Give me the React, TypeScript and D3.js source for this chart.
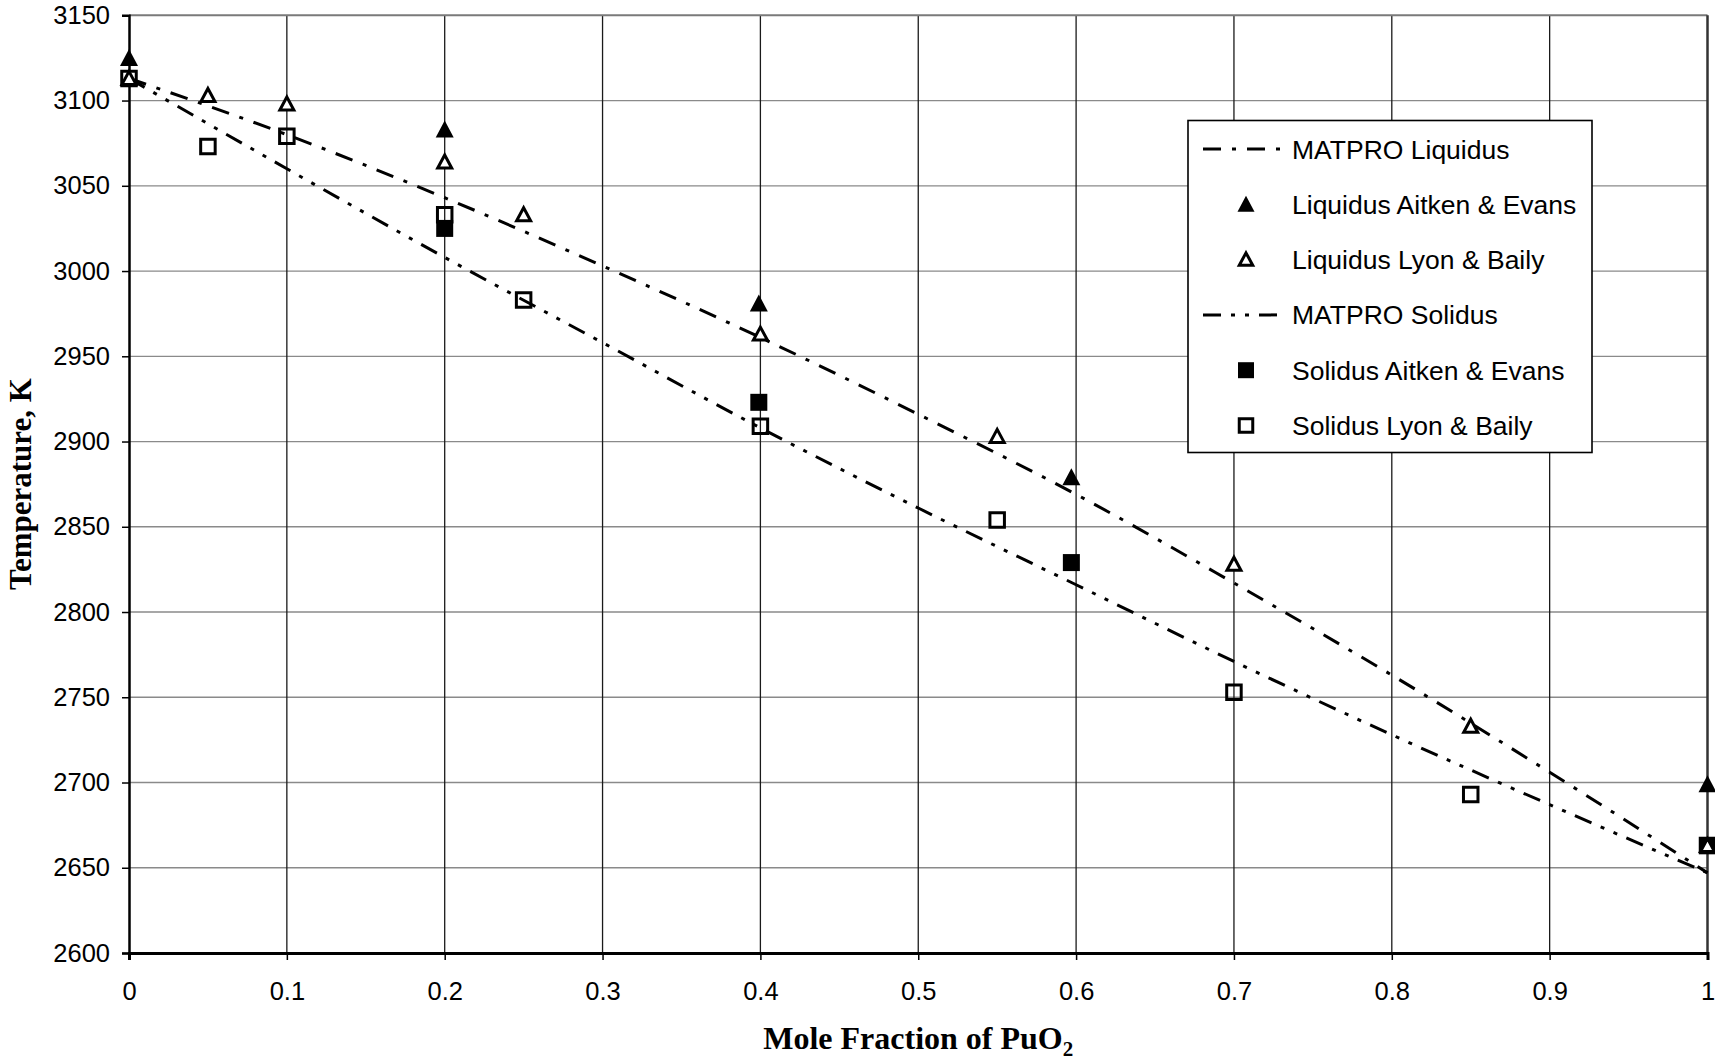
import { useEffect, useRef } from "react";
import * as d3 from "d3";

// values
const xTicks = [0, 0.1, 0.2, 0.3, 0.4, 0.5, 0.6, 0.7, 0.8, 0.9, 1];
const yTicks = [2600, 2650, 2700, 2750, 2800, 2850, 2900, 2950, 3000, 3050, 3100, 3150];

const matproX = [0, 0.1, 0.2, 0.3, 0.4, 0.5, 0.6, 0.7, 0.8, 0.9, 1];
const matproLiquidus = [3113, 3080, 3043, 3003, 2961, 2916, 2869, 2817, 2763, 2706, 2647];
const matproSolidus = [3113, 3060, 3008, 2958, 2908, 2861, 2816, 2771, 2728, 2687, 2647];

const liqAitkenX = [0, 0.2, 0.399, 0.597, 1];
const liqAitkenT = [3125, 3083, 2981, 2879, 2699];

const liqLyonX = [0, 0.05, 0.1, 0.2, 0.25, 0.4, 0.55, 0.7, 0.85, 1];
const liqLyonT = [3113, 3103, 3098, 3064, 3033, 2963, 2903, 2828, 2733, 2663];

const solAitkenX = [0.2, 0.399, 0.597, 1];
const solAitkenT = [3025, 2923, 2829, 2663];

const solLyonX = [0, 0.05, 0.1, 0.2, 0.25, 0.4, 0.55, 0.7, 0.85, 1];
const solLyonT = [3113, 3073, 3079, 3033, 2983, 2909, 2854, 2753, 2693, 2663];

const legendLabels = [
  "MATPRO Liquidus",
  "Liquidus Aitken & Evans",
  "Liquidus Lyon & Baily",
  "MATPRO Solidus",
  "Solidus Aitken & Evans",
  "Solidus Lyon & Baily",
];

const LIQ_DASH = "18,11,4,11";
const SOL_DASH = "18,10,4,10,4,10";

const zip = (xs: number[], ys: number[]) => xs.map((x, i) => [x, ys[i]] as [number, number]);

export default function App() {
  const ref = useRef<SVGSVGElement>(null);

  useEffect(() => {
    const svg = d3.select(ref.current);
    svg.selectAll("*").remove();

    const left = 129;
    const right = 1707.5;
    const top = 15.3;
    const bottom = 953;

    const x = d3.scaleLinear().domain([0, 1]).range([left, right]);
    const y = d3.scaleLinear().domain([2600, 3150]).range([bottom, top]);

    svg.append("rect").attr("width", 1715).attr("height", 1062).attr("fill", "white");

    // gridlines
    svg
      .append("g")
      .selectAll("line")
      .data(yTicks.slice(1, -1))
      .join("line")
      .attr("x1", left)
      .attr("x2", right)
      .attr("y1", (d) => y(d))
      .attr("y2", (d) => y(d))
      .attr("stroke", "#8a8a8a")
      .attr("stroke-width", 1.3);

    svg
      .append("g")
      .selectAll("line")
      .data(xTicks.slice(1, -1))
      .join("line")
      .attr("x1", (d) => x(d))
      .attr("x2", (d) => x(d))
      .attr("y1", top)
      .attr("y2", bottom)
      .attr("stroke", "#1a1a1a")
      .attr("stroke-width", 1.3);

    // frame
    svg.append("line").attr("x1", left).attr("x2", right).attr("y1", top).attr("y2", top)
      .attr("stroke", "#7a7a7a").attr("stroke-width", 2);
    svg.append("line").attr("x1", right).attr("x2", right).attr("y1", top).attr("y2", bottom)
      .attr("stroke", "#333").attr("stroke-width", 2.5);

    // axes
    const yAxis = svg
      .append("g")
      .attr("transform", `translate(${left},0)`)
      .call(d3.axisLeft(y).tickValues(yTicks).tickSize(7).tickPadding(12).tickFormat(d3.format("d")));
    yAxis.select(".domain").attr("stroke", "#000").attr("stroke-width", 2.5);
    yAxis.selectAll(".tick line").attr("stroke", "#000").attr("stroke-width", 1.5);
    yAxis.selectAll(".tick text")
      .attr("font-family", "'Liberation Sans', Arial, sans-serif")
      .attr("font-size", 25.5)
      .attr("fill", "#000");

    const xAxis = svg
      .append("g")
      .attr("transform", `translate(0,${bottom})`)
      .call(d3.axisBottom(x).tickValues(xTicks).tickSize(7).tickPadding(22).tickFormat((d) => String(d)));
    xAxis.select(".domain").attr("stroke", "#000").attr("stroke-width", 3);
    xAxis.selectAll(".tick line").attr("stroke", "#000").attr("stroke-width", 1.5);
    xAxis.selectAll(".tick text")
      .attr("font-family", "'Liberation Sans', Arial, sans-serif")
      .attr("font-size", 25.5)
      .attr("fill", "#000");

    // axis titles
    svg
      .append("text")
      .attr("transform", `translate(31,484) rotate(-90)`)
      .attr("text-anchor", "middle")
      .attr("font-family", "'Liberation Serif', 'Times New Roman', serif")
      .attr("font-weight", "bold")
      .attr("font-size", 31)
      .text("Temperature, K");

    const xt = svg
      .append("text")
      .attr("x", x(0.5))
      .attr("y", 1049)
      .attr("text-anchor", "middle")
      .attr("font-family", "'Liberation Serif', 'Times New Roman', serif")
      .attr("font-weight", "bold")
      .attr("font-size", 32);
    xt.append("tspan").text("Mole Fraction of PuO");
    xt.append("tspan").attr("font-size", 21).attr("dy", 7).text("2");

    // MATPRO curves
    const line = d3
      .line<[number, number]>()
      .x((d) => x(d[0]))
      .y((d) => y(d[1]))
      .curve(d3.curveMonotoneX);

    svg.append("path")
      .attr("d", line(zip(matproX, matproLiquidus)))
      .attr("fill", "none")
      .attr("stroke", "#000")
      .attr("stroke-width", 3)
      .attr("stroke-dasharray", LIQ_DASH);

    svg.append("path")
      .attr("d", line(zip(matproX, matproSolidus)))
      .attr("fill", "none")
      .attr("stroke", "#000")
      .attr("stroke-width", 3)
      .attr("stroke-dasharray", SOL_DASH);

    // markers
    const tri = (s: number) => `M0,${-s / 2}L${s / 2},${s / 2 - 1}L${-s / 2},${s / 2 - 1}Z`;
    const sq = (s: number) => `M${-s / 2},${-s / 2}h${s}v${s}h${-s}Z`;

    const drawMarkers = (g: any, pts: [number, number][], kind: string) => {
      g.selectAll("path")
        .data(pts)
        .join("path")
        .attr("transform", (d: [number, number]) => `translate(${x(d[0])},${y(d[1])})`)
        .attr("d", kind === "openSq" ? sq(14.5) : kind === "fillSq" ? sq(17) : kind === "fillTri" ? tri(18) : tri(14))
        .attr("fill", kind === "fillSq" || kind === "fillTri" ? "#000" : kind === "openTri" ? "#fff" : "none")
        .attr("stroke", "#000")
        .attr("stroke-width", kind === "fillSq" || kind === "fillTri" ? 0 : 3)
        .attr("stroke-linejoin", "miter");
    };

    drawMarkers(svg.append("g"), zip(solLyonX, solLyonT), "openSq");
    drawMarkers(svg.append("g"), zip(solAitkenX, solAitkenT), "fillSq");
    drawMarkers(svg.append("g"), zip(liqAitkenX, liqAitkenT), "fillTri");
    drawMarkers(svg.append("g"), zip(liqLyonX, liqLyonT), "openTri");

    // legend
    const lg = svg.append("g");
    lg.append("rect")
      .attr("x", 1188)
      .attr("y", 120.5)
      .attr("width", 404)
      .attr("height", 332)
      .attr("fill", "#fff")
      .attr("stroke", "#000")
      .attr("stroke-width", 1.6);

    const kinds = ["liq", "fillTri", "openTri", "sol", "fillSq", "openSq"];
    legendLabels.forEach((label, i) => {
      const cy = 149 + i * 55.3;
      const k = kinds[i];
      if (k === "liq" || k === "sol") {
        lg.append("line")
          .attr("x1", 1203)
          .attr("x2", 1283)
          .attr("y1", cy)
          .attr("y2", cy)
          .attr("stroke", "#000")
          .attr("stroke-width", 3)
          .attr("stroke-dasharray", k === "liq" ? LIQ_DASH : SOL_DASH);
      } else {
        const mg = lg.append("g").attr("transform", `translate(1246,${cy})`);
        mg.append("path")
          .attr("d", k === "openSq" ? sq(13.5) : k === "fillSq" ? sq(16) : k === "fillTri" ? tri(17) : tri(13.5))
          .attr("fill", k === "fillSq" || k === "fillTri" ? "#000" : "none")
          .attr("stroke", "#000")
          .attr("stroke-width", k === "fillSq" || k === "fillTri" ? 0 : 3);
      }
      lg.append("text")
        .attr("x", 1292)
        .attr("y", cy + 9.5)
        .attr("font-family", "'Liberation Sans', Arial, sans-serif")
        .attr("font-size", 26.5)
        .attr("fill", "#000")
        .text(label);
    });
  }, []);

  return (
    <svg
      ref={ref}
      width={1715}
      height={1062}
      style={{ position: "absolute", left: 0, top: 0, display: "block" }}
    ></svg>
  );
}
